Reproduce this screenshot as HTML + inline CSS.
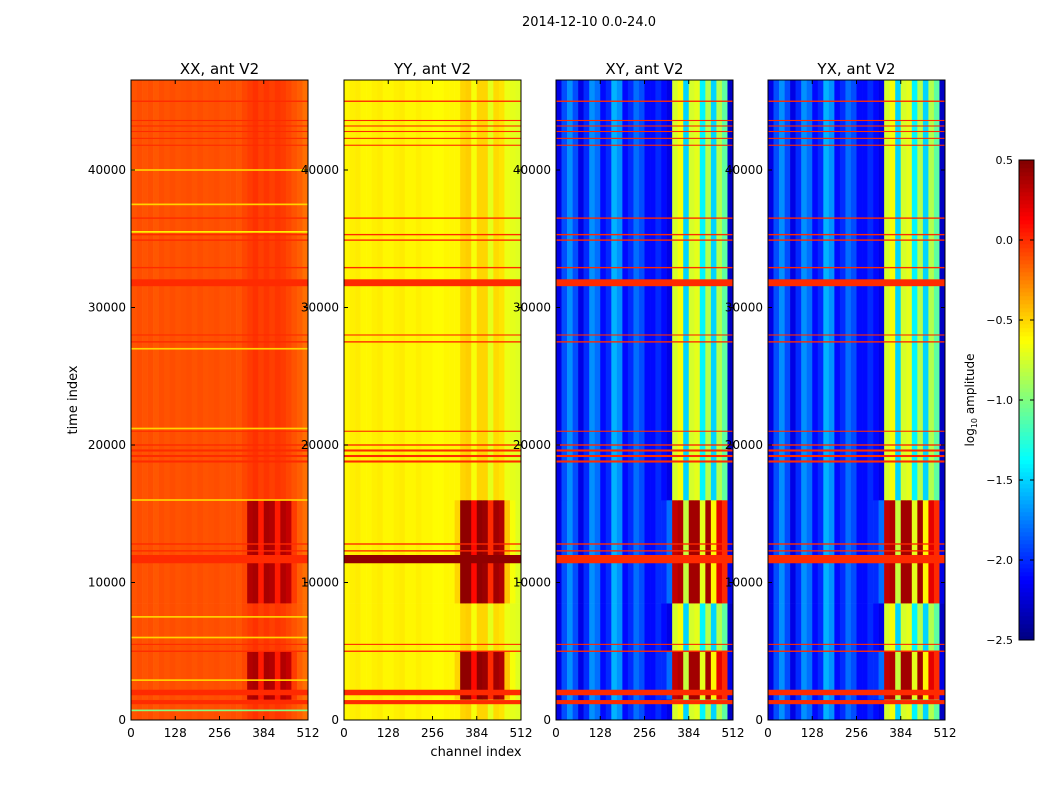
<!DOCTYPE html>
<html><head><meta charset="utf-8"><style>
body{margin:0;background:#fff;font-family:"Liberation Sans","DejaVu Sans",sans-serif}
svg text{font-family:"DejaVu Sans","Liberation Sans",sans-serif;fill:#000}
</style></head><body>
<svg id="fig" width="1050" height="800" viewBox="0 0 1050 800" xmlns="http://www.w3.org/2000/svg">
<rect width="1050" height="800" fill="#fff"/>
<text x="589" y="26" font-size="13" text-anchor="middle">2014-12-10 0.0-24.0</text>
<text x="476" y="756" font-size="13" text-anchor="middle">channel index</text>
<text transform="translate(77,400) rotate(-90)" font-size="13" text-anchor="middle">time index</text>
<g id="panels"></g>
<g id="cbar"></g>
</svg>
<script>
// ---- data ----
const panelTitles = ["XX, ant V2","YY, ant V2","XY, ant V2","YX, ant V2"];
const xTicks = [0,128,256,384,512];
const yTicks = [0,10000,20000,30000,40000];
const cbTicks = [0.5,0.0,-0.5,-1.0,-1.5,-2.0,-2.5];
const burstSegments = [[1500,5000],[8500,16000]];
const profXX = [-0.12,-0.1,-0.12,-0.1,-0.13,-0.1,-0.12,-0.1,-0.12,-0.11,-0.1,-0.12,-0.1,-0.12,-0.11,-0.1,-0.12,-0.11,-0.1,-0.12,-0.08,-0.05,-0.02,-0.06,-0.03,-0.06,-0.03,-0.05,-0.08,-0.12,-0.15,-0.2];
const burstXX = [-0.12,-0.1,-0.12,-0.1,-0.13,-0.1,-0.12,-0.1,-0.12,-0.11,-0.1,-0.12,-0.1,-0.12,-0.11,-0.1,-0.12,-0.11,-0.1,-0.12,-0.08,0.35,0.38,0.05,0.38,0.35,0.05,0.35,0.3,-0.05,-0.15,-0.2];
const profYY = [-0.6,-0.58,-0.57,-0.6,-0.6,-0.58,-0.57,-0.6,-0.6,-0.58,-0.57,-0.6,-0.6,-0.58,-0.6,-0.6,-0.62,-0.62,-0.6,-0.6,-0.6,-0.5,-0.48,-0.65,-0.5,-0.5,-0.7,-0.52,-0.55,-0.68,-0.7,-0.72];
const burstYY = [-0.6,-0.58,-0.57,-0.6,-0.6,-0.58,-0.57,-0.6,-0.6,-0.58,-0.57,-0.6,-0.6,-0.58,-0.6,-0.6,-0.62,-0.62,-0.6,-0.6,-0.5,0.45,0.45,0.1,0.45,0.42,0.0,0.4,0.35,-0.45,-0.65,-0.72];
const profXY = [-2.2,-1.9,-1.7,-1.9,-2.2,-2.0,-1.7,-1.8,-2.1,-2.0,-1.6,-1.7,-2.1,-2.0,-1.8,-1.9,-2.1,-2.1,-2.0,-2.1,-2.2,-0.75,-0.65,-1.5,-0.75,-0.7,-1.4,-0.85,-1.5,-0.85,-1.1,-2.3];
const burstXY = [-2.2,-1.9,-1.7,-1.9,-2.2,-2.0,-1.7,-1.8,-2.1,-2.0,-1.6,-1.7,-2.1,-2.0,-1.8,-1.9,-2.1,-2.1,-2.0,-2.0,-1.8,0.3,0.35,-0.8,0.4,0.4,-0.7,0.4,-0.6,0.2,0.0,-2.2];
const profiles = [profXX,profYY,profXY,profXY];
const bursts = [burstXX,burstYY,burstXY,burstXY];
const lineTimes = [1300,2000,5000,5500,11700,12300,12800,18800,19200,19600,20000,21000,27500,28000,31800,32900,34900,35300,36500,41800,42300,42800,43200,43600,45000];
const lineWidths = [300,400,100,80,600,100,100,150,150,150,100,80,100,80,500,100,100,100,100,80,80,80,80,80,100];
const lineValues = [0.0,0.0,0.0,0.0,0.0,0.0,0.0,0.0,0.0,0.0,0.0,0.0,0.0,0.0,0.0,0.0,0.0,0.0,0.0,0.0,0.0,0.0,0.0,0.0,0.0];
const xxLineTimes = [700,2900,6000,7500,16000,21200,27000,35500,37500,40000];
const xxLineValues = [-1.0,-0.5,-0.5,-0.5,-0.5,-0.5,-0.5,-0.6,-0.5,-0.5];
// ---- scales ----
const panelX = [131,344,556,768], PW=177, Y0=720, Y1=80, TMAX=46545, NCH=512;
const vmin=-2.5, vmax=0.5;
const sx=(p,c)=>panelX[p]+c/NCH*PW;
const sy=t=>Y0-(t/TMAX)*(Y0-Y1);
function jet(v){let x=(v-vmin)/(vmax-vmin);x=Math.max(0,Math.min(1,x));
 const f=(a)=>Math.round(255*Math.max(0,Math.min(1,1.5-Math.abs(4*x-a))));
 return `rgb(${f(3)},${f(2)},${f(1)})`;}
const NS="http://www.w3.org/2000/svg";
function el(tag,attrs,parent){const e=document.createElementNS(NS,tag);for(const k in attrs)e.setAttribute(k,attrs[k]);parent.appendChild(e);return e;}
const G=document.getElementById('panels');
function segments(){const s=[];let t=0;for(const [a,b] of burstSegments){s.push([t,a,0]);s.push([a,b,1]);t=b;}s.push([t,TMAX,0]);return s;}
for(let p=0;p<4;p++){
 const g=el('g',{},G);
 
 
 const nb=profiles[p].length,bw=NCH/nb;
 for(const [a,b,isB] of segments()){
  for(let i=0;i<nb;i++){
   const v=isB?bursts[p][i]:profiles[p][i];
   const r=el('rect',{x:sx(p,i*bw),y:sy(b),width:PW/nb+0.3,height:sy(a)-sy(b)+0.3,fill:jet(v)},g);
   
   
  }
 }
 if(p===0){for(let i=0;i<xxLineTimes.length;i++){
  const r=el('rect',{x:panelX[p],y:sy(xxLineTimes[i]+60),width:PW,height:sy(0)-sy(120),fill:jet(xxLineValues[i])},g);
  
  }}
 for(let i=0;i<lineTimes.length;i++){
  let v=lineValues[i]; if(p===1&&lineTimes[i]===11700)v=0.45;
  const r=el('rect',{x:panelX[p],y:sy(lineTimes[i]+lineWidths[i]/2),width:PW,height:Math.max(1,sy(0)-sy(lineWidths[i])),fill:jet(v)},g);
  
  
 }
 el('rect',{x:panelX[p],y:Y1,width:PW,height:Y0-Y1,fill:'none',stroke:'#000','stroke-width':1},g);
 const t=el('text',{x:panelX[p]+PW/2,y:74,'font-size':15,'text-anchor':'middle'},g);t.textContent=panelTitles[p];
 
 
 for(const xt of xTicks){const x=sx(p,xt);
  el('line',{x1:x,x2:x,y1:Y0,y2:Y0-4,stroke:'#000'},g);el('line',{x1:x,x2:x,y1:Y1,y2:Y1+4,stroke:'#000'},g);
  const l=el('text',{x:x,y:Y0+17,'font-size':12,'text-anchor':'middle'},g);l.textContent=xt;
  
  }
 for(const yt of yTicks){const y=sy(yt);
  el('line',{x1:panelX[p],x2:panelX[p]+4,y1:y,y2:y,stroke:'#000'},g);el('line',{x1:panelX[p]+PW,x2:panelX[p]+PW-4,y1:y,y2:y,stroke:'#000'},g);
  const l=el('text',{x:panelX[p]-5,y:y+4,'font-size':12,'text-anchor':'end'},g);l.textContent=yt;
  
  }
}
// colorbar
const C=document.getElementById('cbar');


const CX=1019,CW=15,CY0=640,CY1=160;
const cy=v=>CY0-(v-vmin)/(vmax-vmin)*(CY0-CY1);
for(let i=0;i<120;i++){const v=vmin+(i+0.5)*(vmax-vmin)/120;
 el('rect',{x:CX,y:cy(v)-(CY0-CY1)/240-0.3,width:CW,height:(CY0-CY1)/120+0.6,fill:jet(v)},C);}
el('rect',{x:CX,y:CY1,width:CW,height:CY0-CY1,fill:'none',stroke:'#000'},C);
for(const v of cbTicks){const y=cy(v);
 el('line',{x1:CX,x2:CX+4,y1:y,y2:y,stroke:'#000'},C);el('line',{x1:CX+CW,x2:CX+CW-4,y1:y,y2:y,stroke:'#000'},C);
 const l=el('text',{x:CX-6,y:y+4,'font-size':11,'text-anchor':'end'},C);l.textContent=(v<0?'\u2212':'')+Math.abs(v).toFixed(1);
 
 }
const ct=el('text',{transform:'translate(974,400) rotate(-90)','font-size':12,'text-anchor':'middle'},C);


ct.innerHTML='log<tspan font-size="8" dy="3">10</tspan><tspan dy="-3"> amplitude</tspan>';
</script>
</body></html>
